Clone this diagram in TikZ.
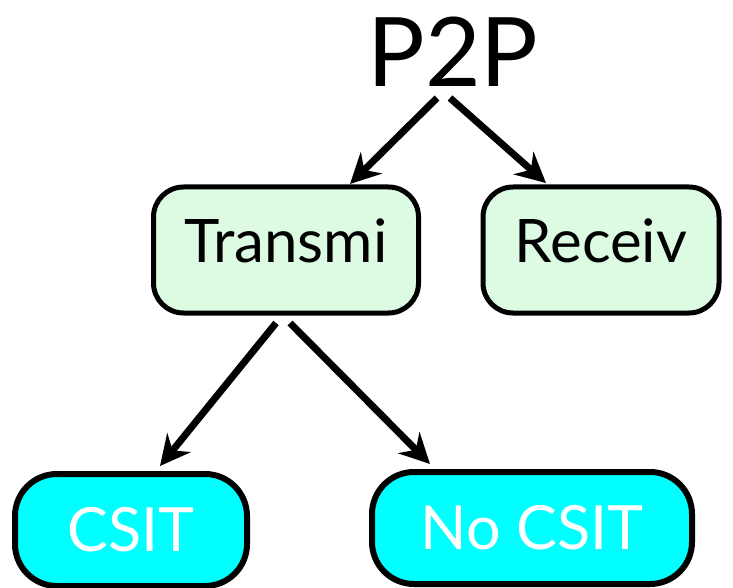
\documentclass[tikz,border=0pt]{standalone}
\usepackage{fontspec}
\setmainfont{Lato}
\usetikzlibrary{arrows.meta}
\definecolor{mintfill}{HTML}{DDFBE2}
\definecolor{cyanfill}{HTML}{00FFFF}
\begin{document}
\begin{tikzpicture}[x=1pt,y=-1pt,
  greenbox/.style={draw=black,line width=5pt,fill=mintfill,rounded corners=30pt,
    minimum height=126pt,font=\fontsize{60}{60}\selectfont,text=black,
    inner sep=0pt,text depth=18pt},
  cyanbox/.style={draw=black,line width=6pt,fill=cyanfill,rounded corners=42pt,
    minimum height=112pt,font=\fontsize{61}{61}\selectfont,text=white,inner sep=0pt},
  link/.style={line width=7pt,-{Stealth[length=30pt,width=30pt,inset=10pt]}}]
\useasboundingbox (0,0) rectangle (733,588);
\node[font=\fontsize{96}{96}\selectfont,inner sep=0pt] (p2p) at (453,52) {P2P};
\node[greenbox,minimum width=265pt] (tx) at (286,250) {Transmi};
\node[greenbox,minimum width=236pt] (rx) at (601,250) {Receiv};
\node[cyanbox,minimum width=232pt] (csit) at (131,530) {CSIT};
\node[cyanbox,minimum width=320pt] (nocsit) at (532,528) {No CSIT};
\coordinate (p2pl) at (437,98);
\coordinate (p2pr) at (450,98);
\coordinate (txl) at (276,323);
\coordinate (txr) at (290,323);
\draw[link] (p2pl) -- (350,184);
\draw[link] (p2pr) -- (546,183);
\draw[link] (txl) -- (160,466);
\draw[link] (txr) -- (430,464);
\end{tikzpicture}
\end{document}
